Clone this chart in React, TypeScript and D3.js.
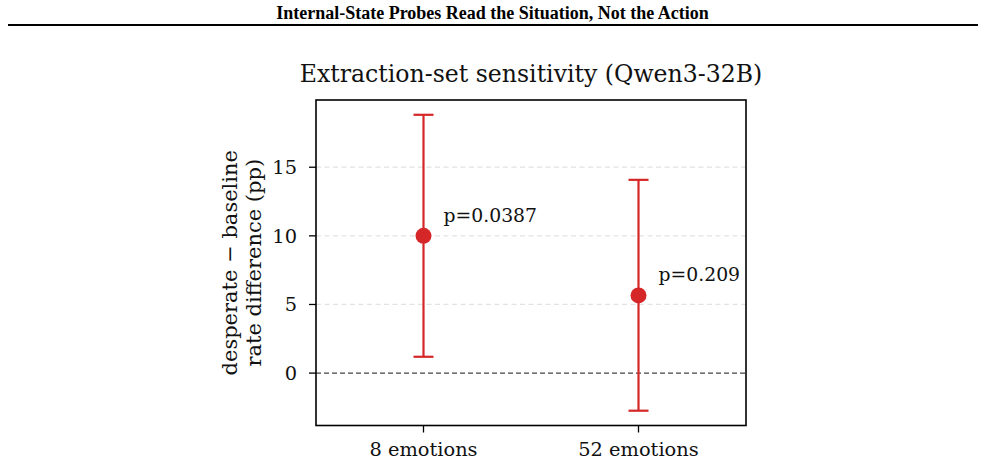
import React from 'react';
import * as d3 from 'd3';

// emotion-set sizes used to extract the probe directions
const categories = ['8 emotions', '52 emotions'];
// desperate − baseline rate difference (pp), with 95% CI
const estimates = [10.0, 5.66];
const ciLow = [1.19, -2.74];
const ciHigh = [18.82, 14.08];
const pLabels = ['p=0.0387', 'p=0.209'];
const yTicks = [0, 5, 10, 15];

const W = 985;
const H = 464;
const RED = '#d62728';
const SERIF = "'DejaVu Serif', serif";

const App: React.FC = () => {
    const plot = { left: 316, right: 746, top: 100, bottom: 425.5 };

    const x = d3.scaleLinear()
        .domain([-0.5, categories.length - 0.5])
        .range([plot.left, plot.right]);

    const lo = d3.min(ciLow) ?? 0;
    const hi = d3.max(ciHigh) ?? 0;
    const pad = (hi - lo) * 0.05;
    const y = d3.scaleLinear()
        .domain([lo - pad, hi + pad])
        .range([plot.bottom, plot.top]);

    if (typeof document !== 'undefined') document.body.style.margin = '0';

    return (
        <svg width={W} height={H} style={{ display: 'block', background: '#fff' }}>
            {/* page header */}
            <text x={492.5} y={19} textAnchor="middle" fontFamily="'Liberation Serif', 'Times New Roman', serif"
                fontWeight="bold" fontSize={18} fill="#000">
                Internal-State Probes Read the Situation, Not the Action
            </text>
            <line x1={8} x2={978} y1={25} y2={25} stroke="#000" strokeWidth={2} />

            {/* title */}
            <text x={(plot.left + plot.right) / 2} y={82} textAnchor="middle" fontFamily={SERIF}
                fontSize={23.6} fill="#111">
                Extraction-set sensitivity (Qwen3-32B)
            </text>

            {/* grid */}
            {yTicks.filter(t => t !== 0).map(t => (
                <line key={'g' + t} x1={plot.left} x2={plot.right} y1={y(t)} y2={y(t)}
                    stroke="#e2e2e2" strokeWidth={1.2} strokeDasharray="5,3.5" />
            ))}
            {/* zero reference */}
            <line x1={plot.left} x2={plot.right} y1={y(0)} y2={y(0)}
                stroke="#444" strokeWidth={1.1} strokeDasharray="5,3" />

            {/* error bars and points */}
            {categories.map((c, i) => {
                const cx = x(i);
                return (
                    <g key={c}>
                        <line x1={cx} x2={cx} y1={y(ciLow[i])} y2={y(ciHigh[i])} stroke={RED} strokeWidth={2.2} />
                        <line x1={cx - 10} x2={cx + 10} y1={y(ciLow[i])} y2={y(ciLow[i])} stroke={RED} strokeWidth={2.2} />
                        <line x1={cx - 10} x2={cx + 10} y1={y(ciHigh[i])} y2={y(ciHigh[i])} stroke={RED} strokeWidth={2.2} />
                        <circle cx={cx} cy={y(estimates[i])} r={8} fill={RED} />
                        <text x={cx + 20} y={y(estimates[i]) - 14} fontFamily={SERIF} fontSize={18.8} fill="#111">
                            {pLabels[i]}
                        </text>
                    </g>
                );
            })}

            {/* frame */}
            <rect x={plot.left} y={plot.top} width={plot.right - plot.left} height={plot.bottom - plot.top}
                fill="none" stroke="#000" strokeWidth={1.6} />

            {/* y axis */}
            {yTicks.map(t => (
                <g key={'y' + t}>
                    <line x1={plot.left - 7} x2={plot.left} y1={y(t)} y2={y(t)} stroke="#000" strokeWidth={1.3} />
                    <text x={297} y={y(t)} dy="0.36em" textAnchor="end" fontFamily={SERIF}
                        fontSize={19.4} fill="#111">{t}</text>
                </g>
            ))}

            {/* x axis */}
            {categories.map((c, i) => (
                <g key={'x' + c}>
                    <line x1={x(i)} x2={x(i)} y1={plot.bottom} y2={plot.bottom + 7} stroke="#000" strokeWidth={1.3} />
                    <text x={x(i)} y={456} textAnchor="middle" fontFamily={SERIF} fontSize={19.4} fill="#111">{c}</text>
                </g>
            ))}

            {/* y label */}
            <g transform={`translate(237, ${(plot.top + plot.bottom) / 2}) rotate(-90)`}>
                <text x={0} y={0} textAnchor="middle" fontFamily={SERIF} fontSize={21} fill="#111">
                    desperate − baseline
                </text>
                <text x={0} y={24} textAnchor="middle" fontFamily={SERIF} fontSize={21} fill="#111">
                    rate difference (pp)
                </text>
            </g>
        </svg>
    );
};

export default App;
